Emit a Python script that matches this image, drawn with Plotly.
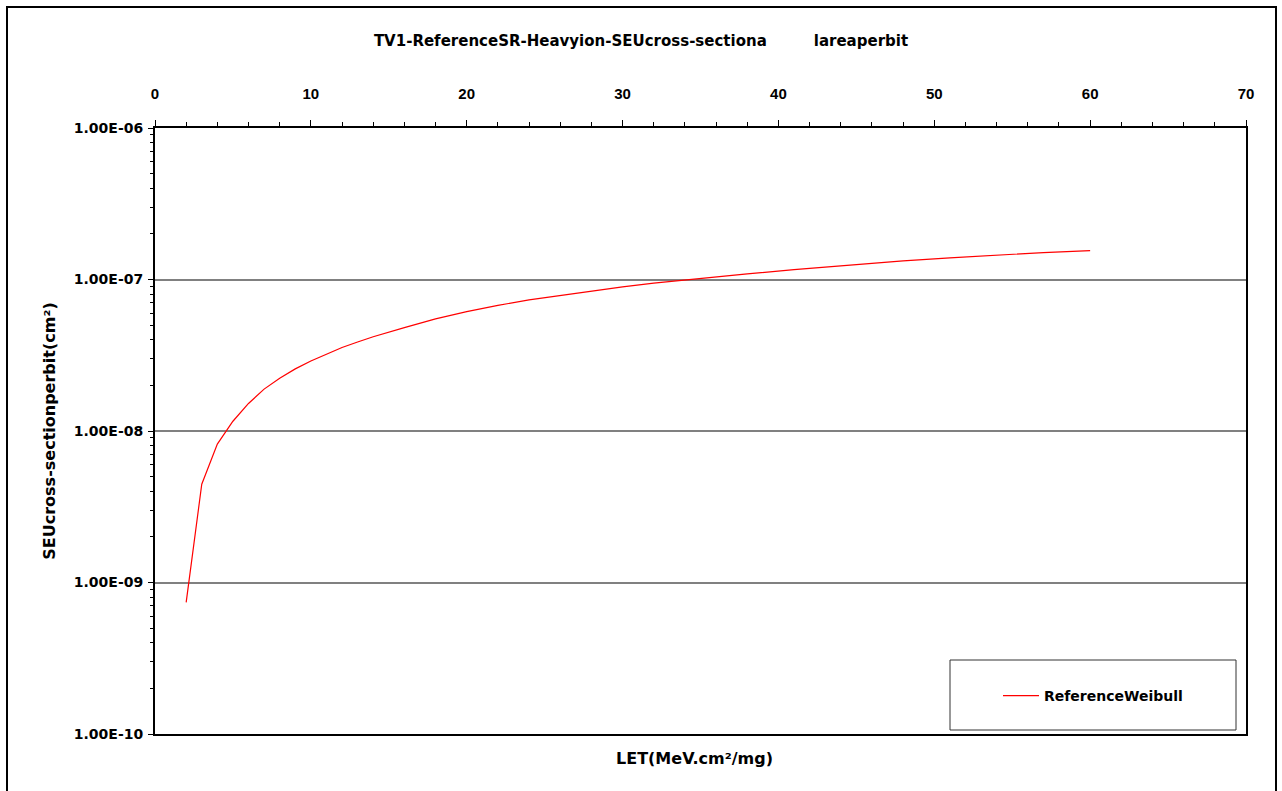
import plotly.graph_objects as go

# Weibull fit of the heavy-ion SEU cross-section per bit
let_values = [2, 3, 4, 5, 6, 7, 8, 9, 10, 11, 12, 13, 14, 16, 18, 20, 22, 24,
              26, 28, 30, 32, 35, 38, 41, 44, 48, 51, 54, 57, 60]
cross_section = [7.4e-10, 4.45e-9, 8.2e-9, 1.16e-8, 1.52e-8, 1.89e-8, 2.23e-8,
                 2.57e-8, 2.90e-8, 3.23e-8, 3.56e-8, 3.87e-8, 4.19e-8, 4.81e-8,
                 5.50e-8, 6.13e-8, 6.75e-8, 7.33e-8, 7.86e-8, 8.40e-8, 8.95e-8,
                 9.46e-8, 1.019e-7, 1.088e-7, 1.163e-7, 1.234e-7, 1.326e-7,
                 1.390e-7, 1.452e-7, 1.505e-7, 1.549e-7]

series_name = "ReferenceWeibull"
title_text = "TV1-ReferenceSR-Heavyion-SEUcross-sectiona" + "\u00a0" * 9 + "lareaperbit"
x_title = "LET(MeV.cm²/mg)"
y_title = "SEUcross-sectionperbit(cm²)"

x_ticks = [0, 10, 20, 30, 40, 50, 60, 70]
x_tick_labels = ["0", "10", "20", "30", "40", "50", "60", "70"]
y_ticks = [1e-10, 1e-9, 1e-8, 1e-7, 1e-6]
y_tick_labels = ["1.00E-10", "1.00E-09", "1.00E-08", "1.00E-07", "1.00E-06"]
y_minor = [k * 10.0 ** d for d in range(-10, -6) for k in range(2, 10)]

W, H = 1282, 791
PL, PR, PT, PB = 155, 1246, 128, 734  # plot area in pixels


def px_x(p):
    return (p - PL) / (PR - PL)


def px_y(p):
    return (PB - p) / (PB - PT)


BOLD = "DejaVu Sans"

fig = go.Figure()
fig.add_trace(go.Scatter(
    x=let_values, y=cross_section, mode="lines", name=series_name,
    line=dict(color="#ff0000", width=1.2),
))

fig.update_layout(
    width=W, height=H,
    margin=dict(l=PL, r=W - PR, t=PT, b=H - PB),
    paper_bgcolor="white", plot_bgcolor="white",
    font=dict(family=BOLD, size=13, color="black", weight="bold"),
    title=dict(text=title_text, x=0.5, xanchor="center", xref="container",
               y=1 - 41 / H, yanchor="middle", yref="container",
               font=dict(family=BOLD, size=15, color="black", weight="bold")),
    showlegend=True,
    legend=dict(x=px_x(998), y=px_y(696), xanchor="left", yanchor="middle",
                bgcolor="rgba(0,0,0,0)", borderwidth=0, itemwidth=36,
                font=dict(family=BOLD, size=14, color="black", weight="bold")),
)

fig.update_xaxes(
    side="top", range=[0, 70], tickvals=x_ticks,
    ticktext=["<b>%s</b>" % t for t in x_tick_labels],
    ticks="outside", ticklen=6, tickwidth=1, tickcolor="black",
    ticklabelstandoff=15,
    tickfont=dict(family="Liberation Sans, Arial", size=15, color="black"),
    minor=dict(dtick=2, tick0=0, ticks="outside", ticklen=4, tickcolor="black",
               showgrid=False),
    showgrid=False, zeroline=False,
    showline=True, linecolor="black", linewidth=2, mirror=True,
    title=None,
)

fig.update_yaxes(
    type="log", range=[-10, -6], tickvals=y_ticks, ticktext=y_tick_labels,
    ticks="outside", ticklen=5, tickwidth=1, tickcolor="black",
    ticklabelstandoff=2,
    tickfont=dict(family=BOLD, size=14, weight="bold"),
    minor=dict(tickvals=y_minor, ticks="outside", ticklen=3, tickcolor="black",
               showgrid=False),
    showgrid=True, gridcolor="#808080", gridwidth=2,
    showline=True, linecolor="black", linewidth=2, mirror=True,
    title=dict(text=y_title, standoff=14,
               font=dict(family=BOLD, size=16, weight="bold")),
)

# x-axis title below the plot
fig.add_annotation(
    text=x_title, xref="paper", yref="paper", x=px_x(694), y=px_y(758),
    xanchor="center", yanchor="middle", showarrow=False,
    font=dict(family=BOLD, size=16, color="black", weight="bold"),
)

shapes = [
    # axis crossing line at 1E-9
    dict(type="line", xref="paper", yref="y", x0=0, x1=1, y0=-9, y1=-9,
         line=dict(color="black", width=1.5)),
    # legend frame
    dict(type="rect", xref="paper", yref="paper",
         x0=px_x(950), x1=px_x(1236), y0=px_y(730), y1=px_y(660),
         line=dict(color="#333333", width=1)),
    # chart-area border
    dict(type="rect", xref="paper", yref="paper",
         x0=px_x(7), x1=px_x(1276), y0=px_y(800), y1=px_y(7),
         line=dict(color="black", width=2)),
]
fig.update_layout(shapes=shapes)

fig.write_html("out.html")
